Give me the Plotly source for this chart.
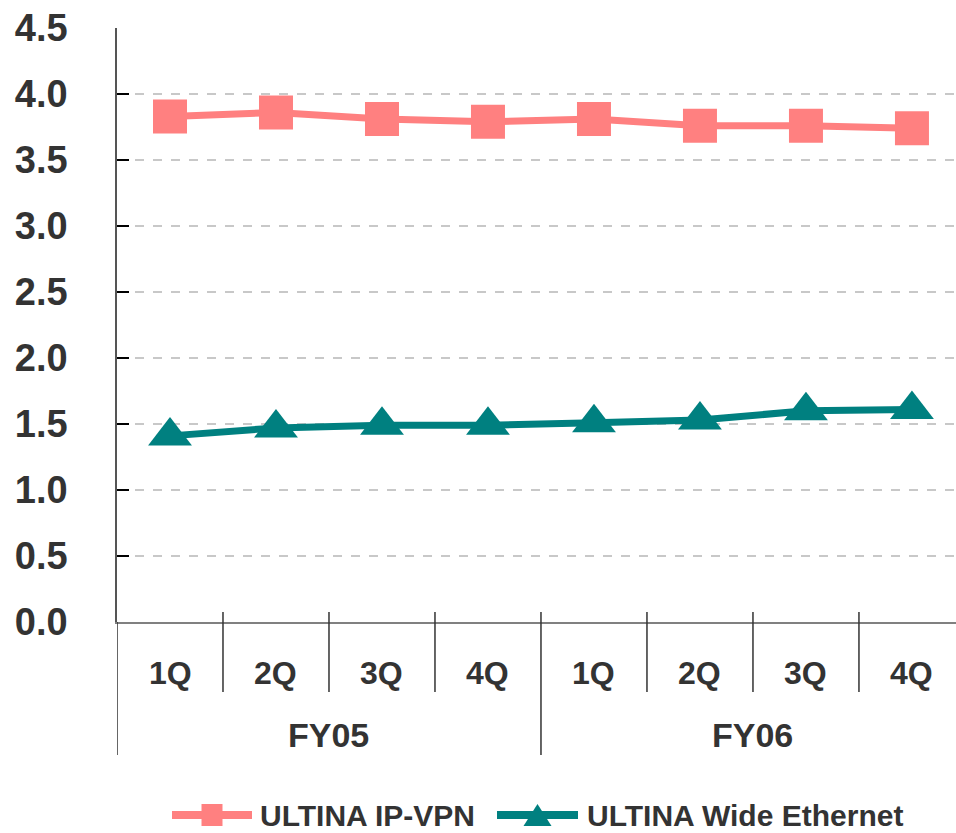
import plotly.graph_objects as go

# Quarterly values per service (FY05 1Q .. FY06 4Q)
fiscal_years = ["FY05", "FY06"]
quarters = ["1Q", "2Q", "3Q", "4Q"]
ip_vpn = [3.83, 3.86, 3.81, 3.79, 3.81, 3.76, 3.76, 3.74]
wide_ethernet = [1.41, 1.47, 1.49, 1.49, 1.51, 1.53, 1.60, 1.61]
series_names = ["ULTINA IP-VPN", "ULTINA Wide Ethernet"]
y_ticks = [0.0, 0.5, 1.0, 1.5, 2.0, 2.5, 3.0, 3.5, 4.0, 4.5]

PINK = "#FF8080"
TEAL = "#008080"
TEXT = "#333333"
FONT = "Liberation Sans, Arial, sans-serif"

categories = [f"{fy} {q}" for fy in fiscal_years for q in quarters]

# Page geometry (pixels) used to place the axis-label block and the legend key
W, H = 956, 833
L, T, B = 117, 28, 211
PLOT_W, PLOT_H = W - L, H - T - B
AXIS_Y = T + PLOT_H


def px_x(px):
    return (px - L) / PLOT_W


def px_y(py):
    return (AXIS_Y - py) / PLOT_H


fig = go.Figure()
fig.add_trace(go.Scatter(
    x=categories, y=ip_vpn, mode="lines+markers", name=series_names[0],
    line=dict(color=PINK, width=7),
    marker=dict(symbol="square", size=34, color=PINK),
    showlegend=False,
))
fig.add_trace(go.Scatter(
    x=categories, y=wide_ethernet, mode="lines+markers", name=series_names[1],
    line=dict(color=TEAL, width=7),
    marker=dict(symbol="triangle-up", size=38, color=TEAL),
    showlegend=False,
))

shapes = []
annotations = []

# Two-level category labels with dividers
n_q = len(quarters)
for i, cat in enumerate(categories):
    annotations.append(dict(
        x=cat, xref="x", y=px_y(673), yref="paper", text=cat.split(" ")[1],
        showarrow=False, xanchor="center", yanchor="middle",
        font=dict(family=FONT, size=32, color=TEXT, weight="bold"),
    ))
    if i > 0 and i % n_q != 0:
        shapes.append(dict(
            type="line", xref="x", yref="paper", x0=i - 0.5, x1=i - 0.5,
            y0=px_y(612), y1=px_y(692), line=dict(color=TEXT, width=1.5),
        ))
for g, fy in enumerate(fiscal_years):
    annotations.append(dict(
        x=g * n_q + (n_q - 1) / 2, xref="x", y=px_y(735), yref="paper", text=fy,
        showarrow=False, xanchor="center", yanchor="middle",
        font=dict(family=FONT, size=34, color=TEXT, weight="bold"),
    ))
    shapes.append(dict(
        type="line", xref="x", yref="paper", x0=g * n_q - 0.5, x1=g * n_q - 0.5,
        y0=px_y(612) if g else 0, y1=px_y(755), line=dict(color=TEXT, width=1.5),
    ))

# Legend key drawn below the chart
legend_y = px_y(815)
for name, color, x_line, x_text, sym in [
    (series_names[0], PINK, (172, 252), 258, "square"),
    (series_names[1], TEAL, (497, 578), 585, "triangle"),
]:
    shapes.append(dict(
        type="line", xref="paper", yref="paper", x0=px_x(x_line[0]), x1=px_x(x_line[1]),
        y0=legend_y, y1=legend_y, line=dict(color=color, width=8),
    ))
    cx = px_x((x_line[0] + x_line[1]) / 2)
    if sym == "square":
        shapes.append(dict(
            type="rect", xref="paper", yref="paper", xsizemode="pixel", ysizemode="pixel",
            xanchor=cx, yanchor=legend_y, x0=-10.5, x1=10.5, y0=-11, y1=11,
            fillcolor=color, line=dict(width=0),
        ))
    else:
        shapes.append(dict(
            type="path", xref="paper", yref="paper", xsizemode="pixel", ysizemode="pixel",
            xanchor=cx, yanchor=legend_y, path="M-14,-11 L14,-11 L0,11 Z",
            fillcolor=color, line=dict(width=0),
        ))
    annotations.append(dict(
        x=px_x(x_text), xref="paper", y=legend_y, yref="paper", text=name,
        showarrow=False, xanchor="left", yanchor="middle",
        font=dict(family=FONT, size=30, color=TEXT, weight="bold"),
    ))

fig.update_layout(
    width=W, height=H,
    margin=dict(l=L, r=0, t=T, b=B, pad=0),
    plot_bgcolor="white", paper_bgcolor="white",
    shapes=shapes, annotations=annotations,
    showlegend=False,
)
fig.update_xaxes(
    type="category", categoryorder="array", categoryarray=categories,
    range=[-0.5, n_q * len(fiscal_years) - 0.5 - 9 / 106.5],
    showticklabels=False, ticks="", showgrid=False, zeroline=False,
    showline=True, linecolor="#808080", linewidth=2,
)
fig.update_yaxes(
    range=[0, 4.5], tickvals=y_ticks, tickformat=".1f",
    ticks="inside", ticklen=12, tickwidth=1.5, tickcolor="#000000",
    showline=True, linecolor="#555555", linewidth=1.5,
    showgrid=True, gridcolor="#c8c8c8", griddash="dash", gridwidth=1.5,
    zeroline=False, ticklabelstandoff=40,
    tickfont=dict(family=FONT, size=38, color=TEXT, weight="bold"),
)

fig.write_html("out.html")
